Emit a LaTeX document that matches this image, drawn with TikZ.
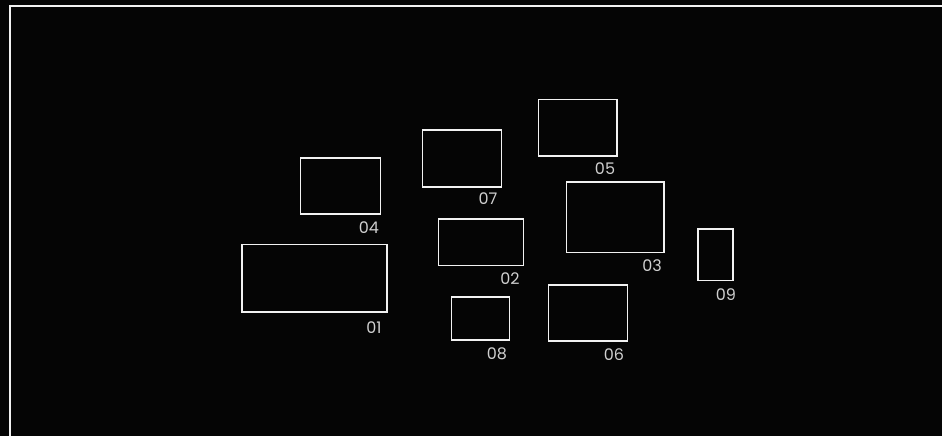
\documentclass[tikz,border=0pt]{standalone}
\usepackage{fontspec}
\setmainfont{Poppins}
\definecolor{bg}{HTML}{050505}
\definecolor{fg}{HTML}{F2F2F2}
\definecolor{lbl}{HTML}{D0D0D0}
\begin{document}
\begin{tikzpicture}[x=1pt,y=-1pt,
  frame/.style={draw=fg,line width=1.6pt,fill=none,inner sep=0pt,outer sep=0pt},
  lab/.style={text=lbl,font=\fontsize{16}{16}\selectfont,inner sep=0pt}]
\useasboundingbox (0,0) rectangle (942,436);
\clip (0,0) rectangle (942,436);
\fill[bg] (0,0) rectangle (942,436);
\draw[fg,line width=1.6pt] (10,6) rectangle (960,460);
\newcommand{\bx}[5]{\node[frame,minimum width=#4pt-#2pt,minimum height=#5pt-#3pt] (#1) at ({(#2+#4)/2},{(#3+#5)/2}) {};}
\bx{b01}{242}{244.5}{387}{312}
\bx{b02}{438.5}{219}{523.5}{265.5}
\bx{b03}{566.5}{182}{664}{252.5}
\bx{b04}{300.5}{158}{380.5}{214}
\bx{b05}{538.5}{99.5}{617}{156}
\bx{b06}{548.5}{285}{627.5}{341}
\bx{b07}{422.5}{130}{501.5}{187}
\bx{b08}{451.5}{297}{509.5}{340}
\bx{b09}{698}{229}{733}{280.5}
\node[lab] (l01) at (374,328) {01};
\node[lab] (l02) at (510,279) {02};
\node[lab] (l03) at (652,265.5) {03};
\node[lab] (l04) at (369,228) {04};
\node[lab] (l05) at (605,169) {05};
\node[lab] (l06) at (614,355) {06};
\node[lab] (l07) at (488,198.5) {07};
\node[lab] (l08) at (497,354) {08};
\node[lab] (l09) at (726,295) {09};
\end{tikzpicture}
\end{document}
